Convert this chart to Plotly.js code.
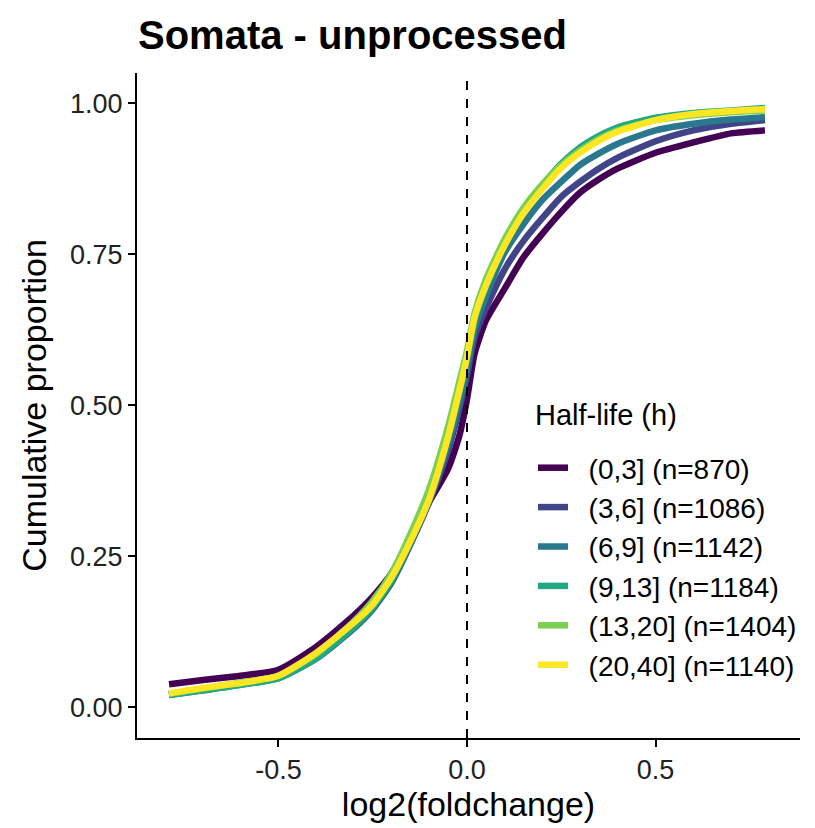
<!DOCTYPE html>
<html>
<head>
<meta charset="utf-8">
<script src="https://cdn.plot.ly/plotly-3.0.1.min.js"></script>
<style>html,body{margin:0;padding:0;background:#fff;}#chart{width:815px;height:828px;}</style>
</head>
<body>
<div id="chart"></div>
<script>
// log2(foldchange) grid (shared by all groups)
const xGrid = [-0.79, -0.7, -0.6, -0.5, -0.4, -0.3, -0.25, -0.2, -0.15, -0.1, -0.05, -0.02, 0, 0.02, 0.05, 0.1, 0.15, 0.2, 0.25, 0.3, 0.35, 0.4, 0.5, 0.6, 0.7, 0.79];

const legendTitle = "Half-life (h)";
const groupLabels = ["(0,3] (n=870)", "(3,6] (n=1086)", "(6,9] (n=1142)", "(9,13] (n=1184)", "(13,20] (n=1404)", "(20,40] (n=1140)"];
const groupColors = ["#440154", "#414487", "#2A788E", "#22A884", "#7AD151", "#FDE725"];

const cum_0_3   = [0.038,0.045,0.052,0.062,0.100,0.152,0.183,0.222,0.280,0.340,0.395,0.450,0.510,0.585,0.640,0.693,0.745,0.784,0.820,0.852,0.874,0.892,0.918,0.935,0.950,0.955];
const cum_3_6   = [0.022,0.030,0.039,0.050,0.084,0.135,0.166,0.208,0.270,0.340,0.425,0.495,0.550,0.612,0.660,0.725,0.772,0.810,0.845,0.870,0.892,0.910,0.937,0.955,0.966,0.972];
const cum_6_9   = [0.020,0.028,0.037,0.048,0.080,0.130,0.162,0.206,0.270,0.343,0.435,0.505,0.560,0.625,0.680,0.753,0.800,0.840,0.870,0.898,0.917,0.933,0.955,0.966,0.973,0.977];
const cum_9_13  = [0.020,0.028,0.037,0.048,0.081,0.133,0.166,0.211,0.276,0.350,0.448,0.522,0.578,0.640,0.695,0.765,0.822,0.864,0.900,0.927,0.946,0.960,0.976,0.984,0.988,0.992];
const cum_13_20 = [0.022,0.031,0.041,0.052,0.088,0.142,0.176,0.222,0.287,0.362,0.465,0.540,0.590,0.652,0.708,0.775,0.827,0.866,0.898,0.922,0.941,0.955,0.972,0.980,0.985,0.988];
const cum_20_40 = [0.023,0.032,0.040,0.052,0.090,0.140,0.170,0.215,0.275,0.345,0.448,0.525,0.580,0.645,0.698,0.765,0.818,0.858,0.893,0.918,0.938,0.953,0.972,0.982,0.987,0.990];

const series = [cum_0_3, cum_3_6, cum_6_9, cum_9_13, cum_13_20, cum_20_40];

const pad = '\u00A0\u00A0';
const traces = series.map((ys, i) => ({
  type: 'scatter', mode: 'lines',
  x: xGrid, y: ys,
  name: pad + groupLabels[i],
  line: {color: groupColors[i], width: 6.5, shape: 'spline', smoothing: 0.6}
}));

const font = "'Liberation Sans', Arial, sans-serif";

const layout = {
  width: 815, height: 828,
  margin: {l: 137, r: 15, t: 73, b: 90},
  paper_bgcolor: '#fff', plot_bgcolor: '#fff',
  font: {family: font, color: '#000'},
  title: {text: '<b>Somata - unprocessed</b>', font: {family: font, size: 40, color: '#000'},
          xref: 'container', x: 138/815, xanchor: 'left', yref: 'container', y: 1 - 35/828, yanchor: 'middle'},
  xaxis: {
    range: [-0.875, 0.883], tickvals: [-0.5, 0, 0.5], ticktext: ['-0.5', '0.0', '0.5'],
    showgrid: false, zeroline: false, showline: true, linecolor: '#000', linewidth: 2,
    ticks: 'outside', ticklen: 7, tickwidth: 2, tickcolor: '#000',
    tickfont: {family: font, size: 27, color: '#222'},
    title: {text: 'log2(foldchange)', font: {family: font, size: 34, color: '#000'}, standoff: 5}
  },
  yaxis: {
    range: [-0.051, 1.05], tickvals: [0, 0.25, 0.5, 0.75, 1], ticktext: ['0.00', '0.25', '0.50', '0.75', '1.00'],
    showgrid: false, zeroline: false, showline: true, linecolor: '#000', linewidth: 2,
    ticks: 'outside', ticklen: 7, tickwidth: 2, tickcolor: '#000',
    tickfont: {family: font, size: 27, color: '#222'},
    title: {text: 'Cumulative proportion', font: {family: font, size: 34, color: '#000'}, standoff: 13}
  },
  shapes: [{type: 'line', xref: 'x', yref: 'paper', x0: 0, x1: 0, y0: 0, y1: 1,
            line: {color: '#000', width: 2, dash: 'dash'}}],
  annotations: [{text: legendTitle, xref: 'paper', yref: 'paper', x: (533 - 137) / 663, y: (738 - 415) / 665,
                 xanchor: 'left', yanchor: 'middle', showarrow: false,
                 font: {family: font, size: 29, color: '#000'}}],
  legend: {
    x: (533 - 137) / 663, y: (738 - 443) / 665, xanchor: 'left', yanchor: 'top',
    bgcolor: 'rgba(0,0,0,0)', borderwidth: 0,
    font: {family: font, size: 28, color: '#000'},
    tracegroupgap: 0, itemwidth: 30
  },
  showlegend: true
};

Plotly.newPlot('chart', traces, layout, {displayModeBar: false, staticPlot: true});
</script>
</body>
</html>
